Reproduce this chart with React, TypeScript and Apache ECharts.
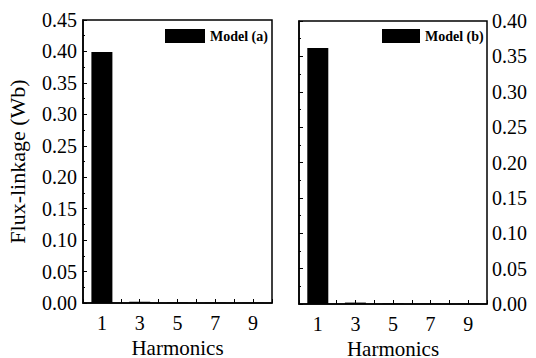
import React, { useEffect, useRef } from "react";
import * as echarts from "echarts";

const harmonics = [1, 3, 5, 7, 9];
const modelA = [0.399, 0.002, 0.0006, 0.0004, 0.0003];
const modelB = [0.362, 0.002, 0.0006, 0.0004, 0.0003];
const xTickLabels = ["1", "3", "5", "7", "9"];

const FONT = "Liberation Serif, Times New Roman, serif";

export default function App() {
  const ref = useRef<HTMLDivElement>(null);
  useEffect(() => {
    if (!ref.current) return;
    const chart = echarts.init(ref.current, null, { renderer: "svg" });
    const xAxisBase = (gridIndex: number) => ({
      type: "value",
      gridIndex,
      min: 0,
      max: 10,
      interval: 1,
      name: "Harmonics",
      nameLocation: "middle",
      nameGap: 27,
      nameTextStyle: { fontFamily: FONT, fontSize: 21, lineHeight: 21, color: "#000" },
      axisLine: { show: true, lineStyle: { color: "#000", width: 1.5 } },
      axisTick: { show: true, inside: true, length: 4, lineStyle: { color: "#000" } },
      axisLabel: {
        fontFamily: FONT,
        fontSize: 20,
        color: "#000",
        margin: 10,
        formatter: (v: number) => (xTickLabels.includes(String(v)) ? String(v) : ""),
      },
      splitLine: { show: false },
    });
    const toData = (arr: number[]) => harmonics.map((h, i) => [h, arr[i]]);
    const legendText = { fontFamily: FONT, fontSize: 14, fontWeight: "bold", color: "#000" };
    chart.setOption({
      animation: false,
      backgroundColor: "#fff",
      textStyle: { fontFamily: FONT, color: "#000" },
      grid: [
        {
          left: 83, top: 20, width: 189, height: 283, show: true,
          borderColor: "#000", borderWidth: 1.5, outerBoundsMode: "none", containLabel: false,
        },
        {
          left: 299, top: 21, width: 188, height: 283, show: true,
          borderColor: "#000", borderWidth: 1.5, outerBoundsMode: "none", containLabel: false,
        },
      ],
      legend: [
        {
          data: ["Model (a)"],
          left: 165,
          top: 29,
          padding: 0,
          itemWidth: 40,
          itemHeight: 14,
          itemGap: 4,
          icon: "rect",
          textStyle: legendText,
        },
        {
          data: ["Model (b)"],
          left: 382,
          top: 29,
          padding: 0,
          itemWidth: 38,
          itemHeight: 14,
          icon: "rect",
          textStyle: legendText,
        },
      ],
      xAxis: [xAxisBase(0), xAxisBase(1)],
      yAxis: [
        {
          type: "value",
          gridIndex: 0,
          min: 0,
          max: 0.45,
          interval: 0.05,
          name: "Flux-linkage (Wb)",
          nameLocation: "middle",
          nameGap: 55,
          nameTextStyle: { fontFamily: FONT, fontSize: 22, color: "#000" },
          axisLine: { show: true, lineStyle: { color: "#000", width: 1.5 } },
          axisTick: { show: true, inside: true, length: 4, lineStyle: { color: "#000" } },
          minorTick: { show: true, splitNumber: 2, length: 2, lineStyle: { color: "#000" } },
          axisLabel: {
            fontFamily: FONT,
            fontSize: 20,
            color: "#000",
            margin: 6,
            formatter: (v: number) => v.toFixed(2),
          },
          splitLine: { show: false },
        },
        {
          type: "value",
          gridIndex: 1,
          position: "right",
          min: 0,
          max: 0.4,
          interval: 0.05,
          axisLine: { show: true, lineStyle: { color: "#000", width: 1.5 } },
          axisTick: { show: true, inside: false, length: 4, lineStyle: { color: "#000" } },
          minorTick: { show: true, splitNumber: 2, length: 2, lineStyle: { color: "#000" } },
          axisLabel: {
            fontFamily: FONT,
            fontSize: 20,
            color: "#000",
            margin: 5,
            formatter: (v: number) => v.toFixed(2),
          },
          splitLine: { show: false },
        },
      ],
      series: [
        {
          name: "Model (a)",
          type: "bar",
          xAxisIndex: 0,
          yAxisIndex: 0,
          barWidth: 21,
          itemStyle: { color: "#000" },
          data: toData(modelA),
        },
        {
          name: "Model (b)",
          type: "bar",
          xAxisIndex: 1,
          yAxisIndex: 1,
          barWidth: 21,
          itemStyle: { color: "#000" },
          data: toData(modelB),
        },
      ],
    });
    return () => chart.dispose();
  }, []);
  return (
    <div
      ref={ref}
      style={{ position: "fixed", left: 0, top: 0, width: 536, height: 358, background: "#fff" }}
    />
  );
}
